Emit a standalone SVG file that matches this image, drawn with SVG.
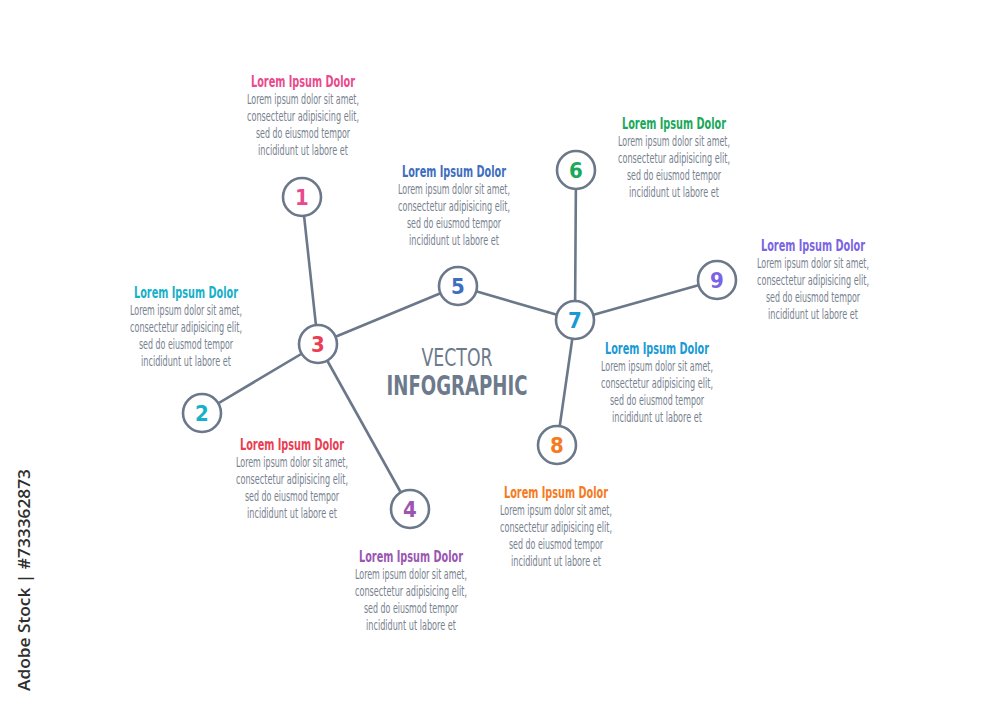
<svg xmlns="http://www.w3.org/2000/svg" width="1000" height="707" viewBox="0 0 1000 707">
<style>
.bg{fill:#ffffff}
.edge{stroke:#6b788a;stroke-width:2.6;fill:none;stroke-linecap:round}
.node{fill:#ffffff;stroke:#6b788a;stroke-width:2.6}
.num{font-family:"Liberation Sans Narrow","DejaVu Sans Condensed","Liberation Sans",sans-serif;font-size:22px;font-weight:bold;text-anchor:middle}
.ttl{font-family:"Liberation Sans Narrow","DejaVu Sans Condensed","Liberation Sans",sans-serif;font-size:15px;font-weight:bold;text-anchor:middle}
.body{font-family:"Liberation Sans Narrow","DejaVu Sans Condensed","Liberation Sans",sans-serif;font-size:13.5px;fill:#78828f;text-anchor:middle}
.head{font-family:"Liberation Sans Narrow","DejaVu Sans Condensed","Liberation Sans",sans-serif;fill:#6c7a8b;text-anchor:middle}
</style>
<rect class="bg" x="0" y="0" width="1000" height="707"/>
<g id="connectors">
<line class="edge" x1="302" y1="197" x2="318" y2="344"/>
<line class="edge" x1="202" y1="413" x2="318" y2="344"/>
<line class="edge" x1="318" y1="344" x2="410" y2="509"/>
<line class="edge" x1="318" y1="344" x2="458" y2="286"/>
<line class="edge" x1="458" y1="286" x2="575" y2="320"/>
<line class="edge" x1="576" y1="170" x2="575" y2="320"/>
<line class="edge" x1="575" y1="320" x2="717" y2="280"/>
<line class="edge" x1="575" y1="320" x2="557" y2="445"/>
</g>
<g id="node1"><circle class="node" cx="302" cy="197" r="19"/><text class="num" x="302" y="205" fill="#e94a8d">1</text></g>
<g id="node2"><circle class="node" cx="202" cy="413" r="19"/><text class="num" x="202" y="421" fill="#17b0c9">2</text></g>
<g id="node3"><circle class="node" cx="318" cy="344" r="19"/><text class="num" x="318" y="352" fill="#ea3e52">3</text></g>
<g id="node4"><circle class="node" cx="410" cy="509" r="19"/><text class="num" x="410" y="517" fill="#9b55b3">4</text></g>
<g id="node5"><circle class="node" cx="458" cy="286" r="19"/><text class="num" x="458" y="294" fill="#3e6ec0">5</text></g>
<g id="node6"><circle class="node" cx="576" cy="170" r="19"/><text class="num" x="576" y="178" fill="#1aa85a">6</text></g>
<g id="node7"><circle class="node" cx="575" cy="320" r="19"/><text class="num" x="575" y="328" fill="#1a9ad4">7</text></g>
<g id="node8"><circle class="node" cx="557" cy="445" r="19"/><text class="num" x="557" y="453" fill="#f47b22">8</text></g>
<g id="node9"><circle class="node" cx="717" cy="280" r="19"/><text class="num" x="717" y="288" fill="#7a64e4">9</text></g>

<g id="label1">
<text class="ttl" x="303" y="87" fill="#e94a8d" textLength="104" lengthAdjust="spacingAndGlyphs">Lorem Ipsum Dolor</text>
<text class="body" x="303" y="104" textLength="112" lengthAdjust="spacingAndGlyphs">Lorem ipsum dolor sit amet,</text>
<text class="body" x="303" y="121" textLength="112" lengthAdjust="spacingAndGlyphs">consectetur adipisicing elit,</text>
<text class="body" x="303" y="138" textLength="94" lengthAdjust="spacingAndGlyphs">sed do eiusmod tempor</text>
<text class="body" x="303" y="155" textLength="90" lengthAdjust="spacingAndGlyphs">incididunt ut labore et</text>
</g>
<g id="label5">
<text class="ttl" x="454" y="177" fill="#3e6ec0" textLength="104" lengthAdjust="spacingAndGlyphs">Lorem Ipsum Dolor</text>
<text class="body" x="454" y="194" textLength="112" lengthAdjust="spacingAndGlyphs">Lorem ipsum dolor sit amet,</text>
<text class="body" x="454" y="211" textLength="112" lengthAdjust="spacingAndGlyphs">consectetur adipisicing elit,</text>
<text class="body" x="454" y="228" textLength="94" lengthAdjust="spacingAndGlyphs">sed do eiusmod tempor</text>
<text class="body" x="454" y="245" textLength="90" lengthAdjust="spacingAndGlyphs">incididunt ut labore et</text>
</g>
<g id="label6">
<text class="ttl" x="674" y="129" fill="#1aa85a" textLength="104" lengthAdjust="spacingAndGlyphs">Lorem Ipsum Dolor</text>
<text class="body" x="674" y="146" textLength="112" lengthAdjust="spacingAndGlyphs">Lorem ipsum dolor sit amet,</text>
<text class="body" x="674" y="163" textLength="112" lengthAdjust="spacingAndGlyphs">consectetur adipisicing elit,</text>
<text class="body" x="674" y="180" textLength="94" lengthAdjust="spacingAndGlyphs">sed do eiusmod tempor</text>
<text class="body" x="674" y="197" textLength="90" lengthAdjust="spacingAndGlyphs">incididunt ut labore et</text>
</g>
<g id="label9">
<text class="ttl" x="813" y="251" fill="#7a64e4" textLength="104" lengthAdjust="spacingAndGlyphs">Lorem Ipsum Dolor</text>
<text class="body" x="813" y="268" textLength="112" lengthAdjust="spacingAndGlyphs">Lorem ipsum dolor sit amet,</text>
<text class="body" x="813" y="285" textLength="112" lengthAdjust="spacingAndGlyphs">consectetur adipisicing elit,</text>
<text class="body" x="813" y="302" textLength="94" lengthAdjust="spacingAndGlyphs">sed do eiusmod tempor</text>
<text class="body" x="813" y="319" textLength="90" lengthAdjust="spacingAndGlyphs">incididunt ut labore et</text>
</g>
<g id="label2">
<text class="ttl" x="186" y="298" fill="#17b0c9" textLength="104" lengthAdjust="spacingAndGlyphs">Lorem Ipsum Dolor</text>
<text class="body" x="186" y="315" textLength="112" lengthAdjust="spacingAndGlyphs">Lorem ipsum dolor sit amet,</text>
<text class="body" x="186" y="332" textLength="112" lengthAdjust="spacingAndGlyphs">consectetur adipisicing elit,</text>
<text class="body" x="186" y="349" textLength="94" lengthAdjust="spacingAndGlyphs">sed do eiusmod tempor</text>
<text class="body" x="186" y="366" textLength="90" lengthAdjust="spacingAndGlyphs">incididunt ut labore et</text>
</g>
<g id="label7">
<text class="ttl" x="657" y="354" fill="#1a9ad4" textLength="104" lengthAdjust="spacingAndGlyphs">Lorem Ipsum Dolor</text>
<text class="body" x="657" y="371" textLength="112" lengthAdjust="spacingAndGlyphs">Lorem ipsum dolor sit amet,</text>
<text class="body" x="657" y="388" textLength="112" lengthAdjust="spacingAndGlyphs">consectetur adipisicing elit,</text>
<text class="body" x="657" y="405" textLength="94" lengthAdjust="spacingAndGlyphs">sed do eiusmod tempor</text>
<text class="body" x="657" y="422" textLength="90" lengthAdjust="spacingAndGlyphs">incididunt ut labore et</text>
</g>
<g id="label3">
<text class="ttl" x="292" y="450" fill="#ea3e52" textLength="104" lengthAdjust="spacingAndGlyphs">Lorem Ipsum Dolor</text>
<text class="body" x="292" y="467" textLength="112" lengthAdjust="spacingAndGlyphs">Lorem ipsum dolor sit amet,</text>
<text class="body" x="292" y="484" textLength="112" lengthAdjust="spacingAndGlyphs">consectetur adipisicing elit,</text>
<text class="body" x="292" y="501" textLength="94" lengthAdjust="spacingAndGlyphs">sed do eiusmod tempor</text>
<text class="body" x="292" y="518" textLength="90" lengthAdjust="spacingAndGlyphs">incididunt ut labore et</text>
</g>
<g id="label4">
<text class="ttl" x="411" y="562" fill="#9b55b3" textLength="104" lengthAdjust="spacingAndGlyphs">Lorem Ipsum Dolor</text>
<text class="body" x="411" y="579" textLength="112" lengthAdjust="spacingAndGlyphs">Lorem ipsum dolor sit amet,</text>
<text class="body" x="411" y="596" textLength="112" lengthAdjust="spacingAndGlyphs">consectetur adipisicing elit,</text>
<text class="body" x="411" y="613" textLength="94" lengthAdjust="spacingAndGlyphs">sed do eiusmod tempor</text>
<text class="body" x="411" y="630" textLength="90" lengthAdjust="spacingAndGlyphs">incididunt ut labore et</text>
</g>
<g id="label8">
<text class="ttl" x="556" y="498" fill="#f47b22" textLength="104" lengthAdjust="spacingAndGlyphs">Lorem Ipsum Dolor</text>
<text class="body" x="556" y="515" textLength="112" lengthAdjust="spacingAndGlyphs">Lorem ipsum dolor sit amet,</text>
<text class="body" x="556" y="532" textLength="112" lengthAdjust="spacingAndGlyphs">consectetur adipisicing elit,</text>
<text class="body" x="556" y="549" textLength="94" lengthAdjust="spacingAndGlyphs">sed do eiusmod tempor</text>
<text class="body" x="556" y="566" textLength="90" lengthAdjust="spacingAndGlyphs">incididunt ut labore et</text>
</g>
<g id="title">
<text class="head" x="457" y="366" font-size="24" textLength="71" lengthAdjust="spacingAndGlyphs">VECTOR</text>
<text class="head" x="457" y="395" font-size="26" font-weight="bold" textLength="141" lengthAdjust="spacingAndGlyphs">INFOGRAPHIC</text>
</g>
<text x="0" y="0" transform="translate(30,691) rotate(-90)" font-family="'Open Sans','Liberation Sans',sans-serif" font-size="17" font-weight="600" fill="#2e2e2e" textLength="222" lengthAdjust="spacingAndGlyphs">Adobe Stock | #733362873</text>
</svg>
